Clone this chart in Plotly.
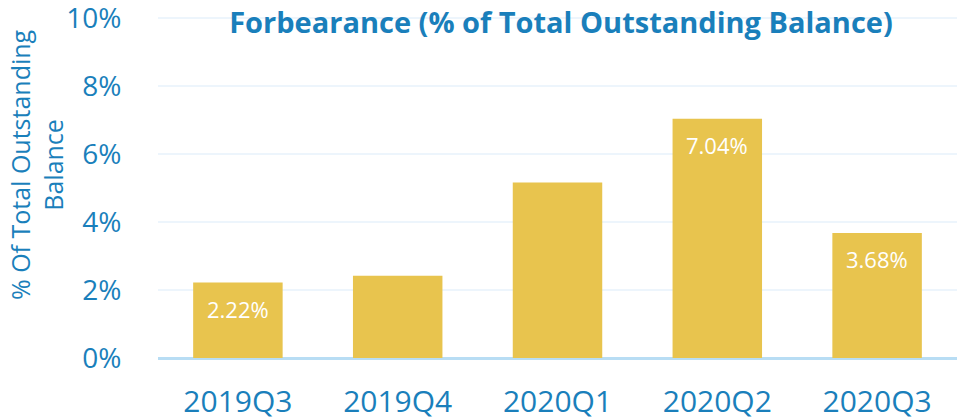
import plotly.graph_objects as go

categories = ["2019Q3", "2019Q4", "2020Q1", "2020Q2", "2020Q3"]
values = [2.22, 2.42, 5.16, 7.04, 3.68]
labels = ["2.22%", "", "", "7.04%", "3.68%"]
y_ticks = [0, 2, 4, 6, 8, 10]
y_tick_text = ["0%", "2%", "4%", "6%", "8%", "10%"]

blue = "#1a7fbb"
gold = "#e8c44e"

fig = go.Figure()
fig.add_trace(go.Bar(
    x=categories, y=values,
    marker=dict(color=gold, line=dict(width=0)),
    hoverinfo="skip",
))
for c, v, t in zip(categories, values, labels):
    if t:
        fig.add_annotation(x=c, y=v, text=t, showarrow=False, yanchor="top",
                           yshift=-9, font=dict(family="Open Sans", size=22, color="white"))

fig.add_annotation(
    text="% Of Total Outstanding<br>Balance", textangle=-90,
    xref="paper", yref="paper", x=(37 - 158) / 799, y=(358 - 165) / 341,
    xanchor="center", yanchor="middle", showarrow=False,
    font=dict(family="Open Sans", size=25, color=blue),
)

fig.update_layout(
    width=957, height=419,
    margin=dict(l=158, r=0, t=17, b=61, autoexpand=False),
    paper_bgcolor="white", plot_bgcolor="white",
    bargap=0.44,
    showlegend=False,
    title=dict(text="<b>Forbearance (% of Total Outstanding Balance)</b>",
               x=561 / 957, xref="container", xanchor="center",
               y=1 - 23 / 419, yref="container", yanchor="middle",
               font=dict(family="Open Sans", size=29, color=blue)),
    font=dict(family="Open Sans", color=blue),
)
fig.update_yaxes(
    automargin=False,
    range=[0, 10.03], tickmode="array", tickvals=y_ticks, ticktext=y_tick_text,
    tickfont=dict(size=28, color=blue), ticklabeloverflow="allow",
    showgrid=True, gridcolor="#edf5fc", gridwidth=2,
    zeroline=True, zerolinecolor="#b8ddf4", zerolinewidth=3,
    ticks="outside", ticklen=30, tickcolor="rgba(0,0,0,0)",
)
fig.update_xaxes(
    automargin=False,
    tickfont=dict(size=30, color=blue), showline=False, ticklabeloverflow="allow",
    ticks="outside", ticklen=17, tickcolor="rgba(0,0,0,0)",
)

fig.write_html("out.html", config={"displayModeBar": False},
               post_script="document.body.style.margin='0px';")
